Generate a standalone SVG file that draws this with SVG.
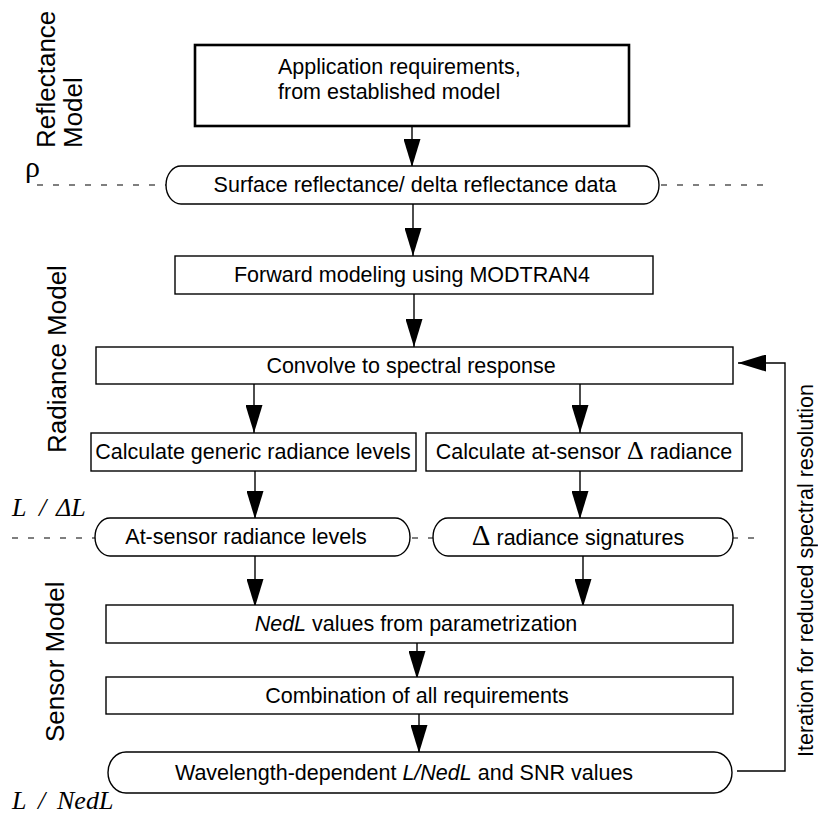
<svg xmlns="http://www.w3.org/2000/svg" width="818" height="817" viewBox="0 0 818 817">
<defs>
<marker id="ah" markerUnits="userSpaceOnUse" markerWidth="28" markerHeight="17" refX="28" refY="8.5" orient="auto">
<path d="M0,0 L28,8.5 L0,17 z" fill="#000"/>
</marker>
<style>
.t{font-family:"Liberation Sans",Arial,sans-serif;font-size:21.5px;fill:#000;text-anchor:middle}
.lab{font-family:"Liberation Sans",Arial,sans-serif;font-size:26px;fill:#000}
.sym{font-family:"Liberation Serif","Times New Roman",serif;fill:#000}
.box{fill:#fff;stroke:#000;stroke-width:1.4}
.dash{stroke:#000;stroke-width:1.2;stroke-dasharray:6 10;fill:none}
.c{stroke:#000;stroke-width:1.4;fill:none}
</style>
</defs>
<rect width="818" height="817" fill="#fff"/>

<!-- section labels -->
<g id="labels">
<text class="lab" transform="translate(55,148) rotate(-90)">Reflectance</text>
<text class="lab" transform="translate(82,148) rotate(-90)">Model</text>
<text class="lab" transform="translate(66,453) rotate(-90)">Radiance Model</text>
<text class="lab" transform="translate(64,742) rotate(-90)">Sensor Model</text>
<text class="sym" x="25" y="177" font-size="30">ρ</text>
<text class="sym" font-size="26" font-style="italic" y="516"><tspan x="12">L</tspan><tspan x="39">/</tspan><tspan x="56">ΔL</tspan></text>
<text class="sym" font-size="26" font-style="italic" y="809"><tspan x="12">L</tspan><tspan x="38">/</tspan><tspan x="57">NedL</tspan></text>
<text class="t" font-size="21.5" style="text-anchor:start" transform="translate(813,757) rotate(-90)">Iteration for reduced spectral resolution</text>
</g>

<!-- dashed level lines -->
<g id="levels">
<line class="dash" x1="37" y1="185" x2="767" y2="185"/>
<line class="dash" x1="12" y1="538" x2="762" y2="538"/>
</g>

<!-- connectors -->
<g id="connectors">
<line class="c" x1="412" y1="126" x2="412" y2="167" marker-end="url(#ah)"/>
<line class="c" x1="413" y1="204" x2="413" y2="256" marker-end="url(#ah)"/>
<line class="c" x1="414" y1="294" x2="414" y2="347" marker-end="url(#ah)"/>
<line class="c" x1="254" y1="384" x2="254" y2="433" marker-end="url(#ah)"/>
<line class="c" x1="580" y1="384" x2="580" y2="433" marker-end="url(#ah)"/>
<line class="c" x1="255" y1="471" x2="255" y2="519" marker-end="url(#ah)"/>
<line class="c" x1="580" y1="471" x2="580" y2="519" marker-end="url(#ah)"/>
<line class="c" x1="255" y1="556" x2="255" y2="607" marker-end="url(#ah)"/>
<line class="c" x1="583" y1="556" x2="583" y2="607" marker-end="url(#ah)"/>
<line class="c" x1="417" y1="643" x2="417" y2="679" marker-end="url(#ah)"/>
<line class="c" x1="419" y1="714" x2="419" y2="753" marker-end="url(#ah)"/>
<polyline class="c" points="737,771 785,771 785,363 738,363" marker-end="url(#ah)"/>
</g>

<g id="n1">
<rect x="195" y="45" width="434" height="81" fill="#fff" stroke="#000" stroke-width="2.6"/>
<text class="t" style="text-anchor:start" x="278" y="74">Application requirements,</text>
<text class="t" style="text-anchor:start" x="278" y="99">from established model</text>
</g>
<g id="n2">
<rect class="box" x="166" y="166" width="493" height="38" rx="15" ry="19"/>
<text class="t" x="415" y="192">Surface reflectance/ delta reflectance data</text>
</g>
<g id="n3">
<rect class="box" x="175" y="256" width="478" height="38"/>
<text class="t" x="412" y="282">Forward modeling using MODTRAN4</text>
</g>
<g id="n4">
<rect class="box" x="96" y="347" width="637" height="37"/>
<text class="t" x="411" y="373">Convolve to spectral response</text>
</g>
<g id="n5">
<rect class="box" x="91" y="433" width="325" height="38"/>
<text class="t" x="253" y="459">Calculate generic radiance levels</text>
</g>
<g id="n6">
<rect class="box" x="426" y="433" width="316" height="38"/>
<text class="t" x="584" y="459">Calculate at-sensor <tspan class="sym" font-size="26">Δ</tspan> radiance</text>
</g>
<g id="n7">
<rect class="box" x="95" y="518" width="315" height="38" rx="15" ry="19"/>
<text class="t" x="246" y="544">At-sensor radiance levels</text>
</g>
<g id="n8">
<rect class="box" x="433" y="518" width="300" height="38" rx="15" ry="19"/>
<text class="t" x="578" y="545"><tspan class="sym" font-size="29">Δ</tspan> radiance signatures</text>
</g>
<g id="n9">
<rect class="box" x="106" y="605" width="627" height="38"/>
<text class="t" x="416" y="631"><tspan font-style="italic">NedL</tspan> values from parametrization</text>
</g>
<g id="n10">
<rect class="box" x="106" y="677" width="627" height="37"/>
<text class="t" x="417" y="703">Combination of all requirements</text>
</g>
<g id="n11">
<rect class="box" x="108" y="752" width="624" height="41" rx="18" ry="20.5"/>
<text class="t" x="404" y="780">Wavelength-dependent <tspan font-style="italic">L/NedL</tspan> and SNR values</text>
</g>
</svg>
